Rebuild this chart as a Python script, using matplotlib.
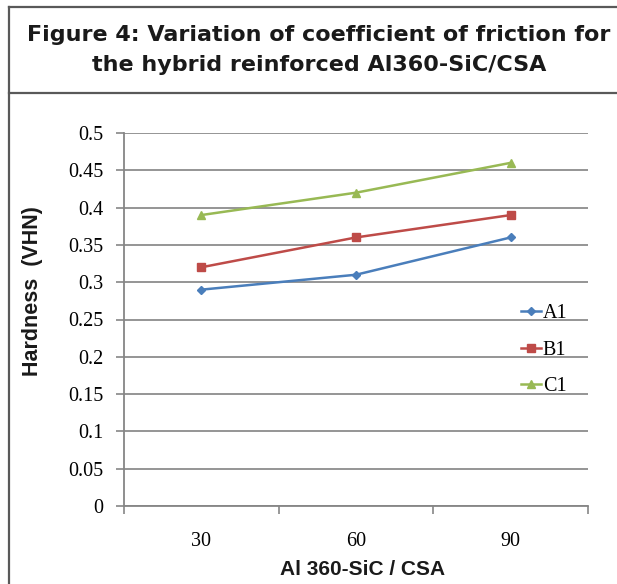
import matplotlib
matplotlib.use('Agg')
import matplotlib.pyplot as plt
from matplotlib.lines import Line2D

categories = ['30', '60', '90']
a1 = [0.29, 0.31, 0.36]
b1 = [0.32, 0.36, 0.39]
c1 = [0.39, 0.42, 0.46]
yticks = [0, 0.05, 0.1, 0.15, 0.2, 0.25, 0.3, 0.35, 0.4, 0.45, 0.5]
ytick_labels = ['0', '0.05', '0.1', '0.15', '0.2', '0.25', '0.3', '0.35', '0.4', '0.45', '0.5']

W, H = 617, 584
fig = plt.figure(figsize=(W / 100, H / 100), dpi=100)
ax = fig.add_axes([124 / W, 1 - 506 / H, (588 - 124) / W, (506 - 133) / H])

x = list(range(len(categories)))
ax.plot(x, a1, color='#4a7ebb', lw=1.8, marker='D', ms=4.5, label='A1')
ax.plot(x, b1, color='#be4b48', lw=1.8, marker='s', ms=5.5, label='B1')
ax.plot(x, c1, color='#98b954', lw=1.8, marker='^', ms=6, label='C1')

ax.set_xlim(-0.5, 2.5)
ax.set_ylim(0, 0.5)
ax.set_yticks(yticks)
ax.set_yticklabels(ytick_labels, family='Liberation Serif', fontsize=14.5)
ax.set_xticks(x)
ax.set_xticklabels(categories, family='Liberation Serif', fontsize=14.5)
ax.set_xticks([-0.5, 0.5, 1.5, 2.5], minor=True)
ax.tick_params(axis='x', which='major', length=0, pad=19)
ax.tick_params(axis='x', which='minor', length=6, width=1.2, color='#868686')
ax.tick_params(axis='y', length=6, width=1.2, color='#868686', pad=9)
ax.yaxis.grid(True, color='#8c8c8c', lw=1.3)
ax.set_axisbelow(True)
for s in ['top', 'right']:
    ax.spines[s].set_visible(False)
for s in ['left', 'bottom']:
    ax.spines[s].set_color('#868686')
    ax.spines[s].set_linewidth(1.3)

ax.set_xlabel('Al 360-SiC / CSA', family='Liberation Sans', fontsize=15, fontweight='bold',
              color='#1a1a1a')
ax.xaxis.set_label_coords(0.515, -0.145)
ax.set_ylabel('Hardness  (VHN)', family='Liberation Sans', fontsize=15.5, fontweight='bold',
              color='#1a1a1a')
ax.yaxis.set_label_coords(-0.175, 0.576)

leg = ax.legend(loc='center left', bbox_to_anchor=(0.855, 0.418), frameon=False,
                prop={'family': 'Liberation Serif', 'size': 14.5}, labelspacing=0.85,
                handlelength=1.0, handletextpad=0.1, borderpad=0, borderaxespad=0)

# frame around the figure
fc = '#595959'
fig.add_artist(Line2D([9 / W, 9 / W], [0, 1 - 7 / H], color=fc, lw=1.6, transform=fig.transFigure))
fig.add_artist(Line2D([9 / W, 1], [1 - 7 / H, 1 - 7 / H], color=fc, lw=1.6, transform=fig.transFigure))
fig.add_artist(Line2D([9 / W, 1], [1 - 93 / H, 1 - 93 / H], color=fc, lw=1.6, transform=fig.transFigure))

fig.text(319 / W, 1 - 50 / H, 'Figure 4: Variation of coefficient of friction for\nthe hybrid reinforced Al360-SiC/CSA',
         ha='center', va='center', fontsize=16, fontweight='bold', family='DejaVu Sans',
         color='#1a1a1a', linespacing=1.6)

fig.savefig('out.png', dpi=100)
